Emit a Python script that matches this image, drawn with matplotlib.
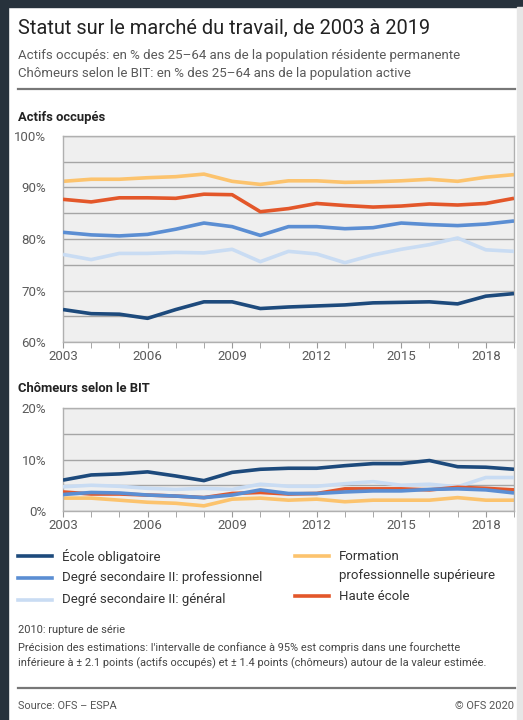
import matplotlib
matplotlib.use("Agg")
import matplotlib.pyplot as plt
from matplotlib.lines import Line2D
from matplotlib.patches import Rectangle
from matplotlib.ticker import MultipleLocator, FuncFormatter

plt.rcParams['font.family'] = ['Roboto', 'DejaVu Sans']

years = list(range(2003, 2020))
series_names = ["École obligatoire", "Degré secondaire II: professionnel",
                "Degré secondaire II: général", "Formation\nprofessionnelle supérieure",
                "Haute école"]
colors = ["#1d4a7c", "#5b8ed3", "#c9dcf3", "#fcc36d", "#e3572a"]

actifs_obligatoire = [66.3, 65.5, 65.4, 64.6, 66.3, 67.8, 67.8, 66.5, 66.8, 67.0, 67.2, 67.6, 67.7, 67.8, 67.4, 68.9, 69.4]
actifs_professionnel = [81.3, 80.8, 80.6, 80.9, 81.9, 83.1, 82.4, 80.7, 82.4, 82.4, 82.0, 82.2, 83.1, 82.8, 82.6, 82.9, 83.5]
actifs_general = [77.0, 76.0, 77.2, 77.2, 77.4, 77.3, 78.0, 75.6, 77.6, 77.1, 75.4, 76.9, 78.0, 78.9, 80.2, 77.9, 77.6]
actifs_formation_sup = [91.2, 91.6, 91.6, 91.9, 92.1, 92.6, 91.2, 90.6, 91.3, 91.3, 91.0, 91.1, 91.3, 91.6, 91.2, 92.0, 92.5]
actifs_haute_ecole = [87.7, 87.2, 88.0, 88.0, 87.9, 88.7, 88.6, 85.3, 85.9, 86.9, 86.5, 86.2, 86.4, 86.8, 86.6, 86.9, 87.9]

chom_obligatoire = [6.0, 7.0, 7.2, 7.6, 6.8, 5.9, 7.5, 8.1, 8.3, 8.3, 8.8, 9.2, 9.2, 9.8, 8.6, 8.5, 8.1]
chom_professionnel = [3.2, 3.6, 3.5, 3.1, 2.9, 2.6, 3.1, 4.1, 3.4, 3.4, 3.7, 3.9, 3.9, 4.2, 4.3, 4.1, 3.5]
chom_general = [4.7, 5.0, 4.8, 4.4, 4.2, 4.4, 4.2, 5.2, 4.8, 4.8, 5.3, 5.7, 5.0, 5.2, 4.7, 6.5, 6.5]
chom_formation_sup = [2.5, 2.5, 2.1, 1.7, 1.5, 1.0, 2.3, 2.5, 2.1, 2.3, 1.8, 2.1, 2.1, 2.1, 2.6, 2.1, 2.1]
chom_haute_ecole = [3.7, 3.3, 3.3, 3.1, 2.9, 2.6, 3.4, 3.6, 3.3, 3.4, 4.3, 4.3, 4.3, 4.1, 4.6, 4.4, 4.1]

actifs = [actifs_obligatoire, actifs_professionnel, actifs_general, actifs_formation_sup, actifs_haute_ecole]
chom = [chom_obligatoire, chom_professionnel, chom_general, chom_formation_sup, chom_haute_ecole]
zorders = [6, 5, 3, 2, 4]

W, H = 523, 720
fig = plt.figure(figsize=(W / 100, H / 100), dpi=100)
fig.patch.set_facecolor("#ffffff")

def fx(px):
    return px / W

def fy(py):
    return 1 - py / H

# frame / background
dark = "#27323c"
fig.add_artist(Rectangle((0, 0), fx(8), 1, transform=fig.transFigure, color=dark, zorder=0))
fig.add_artist(Rectangle((0, fy(7)), 1, 7 / H, transform=fig.transFigure, color=dark, zorder=0))
fig.add_artist(Rectangle((fx(517), 0), 6 / W, fy(7), transform=fig.transFigure, color="#e6e6e6", zorder=0))

txtc = "#222222"
greyc = "#5a5a5a"

fig.text(fx(18), fy(28), "Statut sur le marché du travail, de 2003 à 2019", fontsize=14.4,
         color=txtc, va="center", ha="left")
fig.text(fx(18), fy(55), "Actifs occupés: en % des 25–64 ans de la population résidente permanente",
         fontsize=9.5, color=greyc, va="center")
fig.text(fx(18), fy(73), "Chômeurs selon le BIT: en % des 25–64 ans de la population active",
         fontsize=9.5, color=greyc, va="center")
fig.add_artist(Line2D([fx(18), fx(515)], [fy(89), fy(89)], transform=fig.transFigure,
                      color="#777777", lw=1.6))

fig.text(fx(18), fy(117), "Actifs occupés", fontsize=9.4, fontweight="bold", color=txtc, va="center")
fig.text(fx(18), fy(388), "Chômeurs selon le BIT", fontsize=9.4, fontweight="bold", color=txtc, va="center")


def style_ax(ax, ymin, ymax, major):
    ax.set_facecolor("#efefef")
    ax.set_xlim(2003, 2019)
    ax.set_ylim(ymin, ymax)
    ax.yaxis.set_major_locator(MultipleLocator(major))
    ax.yaxis.set_minor_locator(MultipleLocator(5))
    ax.yaxis.set_major_formatter(FuncFormatter(lambda v, p: f"{v:.0f}%"))
    ax.set_xticks([2003, 2006, 2009, 2012, 2015, 2018])
    ax.xaxis.set_minor_locator(MultipleLocator(1))
    ax.grid(True, which="both", axis="y", color="#a5a5a5", lw=1.0, zorder=1)
    for s in ax.spines.values():
        s.set_color("#b0b0b0")
        s.set_linewidth(1.0)
    ax.tick_params(axis="y", which="both", length=0, labelsize=9.5, labelcolor=greyc, pad=12)
    ax.tick_params(axis="x", which="both", length=4, color="#999999", labelsize=9.5,
                   labelcolor=greyc, pad=2)
    ax.set_axisbelow(True)


ax1 = fig.add_axes([fx(63), fy(342), fx(514) - fx(63), (342 - 136) / H])
style_ax(ax1, 60, 100, 10)
for vals, c, z in zip(actifs, colors, zorders):
    ax1.plot(years, vals, color=c, lw=2.6, zorder=z, solid_capstyle="butt")

ax2 = fig.add_axes([fx(63), fy(511), fx(514) - fx(63), (511 - 408) / H])
style_ax(ax2, 0, 20, 10)
for vals, c, z in zip(chom, colors, zorders):
    ax2.plot(years, vals, color=c, lw=2.6, zorder=z, solid_capstyle="butt")

# legend
leg_pos = [(18, 556), (18, 578), (18, 600), (295, 556), (295, 596)]
for name, c, (x, y) in zip(series_names, colors, leg_pos):
    fig.add_artist(Line2D([fx(x), fx(x + 34)], [fy(y), fy(y)], transform=fig.transFigure,
                          color=c, lw=2.6))
    if "\n" in name:
        a, b = name.split("\n")
        fig.text(fx(x + 44), fy(y), a, fontsize=9.5, color="#333333", va="center")
        fig.text(fx(x + 44), fy(y + 19), b, fontsize=9.5, color="#333333", va="center")
    else:
        fig.text(fx(x + 44), fy(y), name, fontsize=9.5, color="#333333", va="center")

nfs = 7.95
fig.text(fx(18), fy(630), "2010: rupture de série", fontsize=nfs, color="#444444", va="center")
fig.text(fx(18), fy(648), "Précision des estimations: l'intervalle de confiance à 95% est compris dans une fourchette",
         fontsize=nfs, color="#444444", va="center")
fig.text(fx(18), fy(663), "inférieure à ± 2.1 points (actifs occupés) et ± 1.4 points (chômeurs) autour de la valeur estimée.",
         fontsize=nfs, color="#444444", va="center")
fig.add_artist(Line2D([fx(18), fx(515)], [fy(688), fy(688)], transform=fig.transFigure,
                      color="#777777", lw=1.6))
fig.text(fx(18), fy(706), "Source: OFS – ESPA", fontsize=nfs, color="#555555", va="center")
fig.text(fx(514), fy(706), "© OFS 2020", fontsize=nfs, color="#555555", va="center", ha="right")

fig.savefig("out.png", dpi=100)
